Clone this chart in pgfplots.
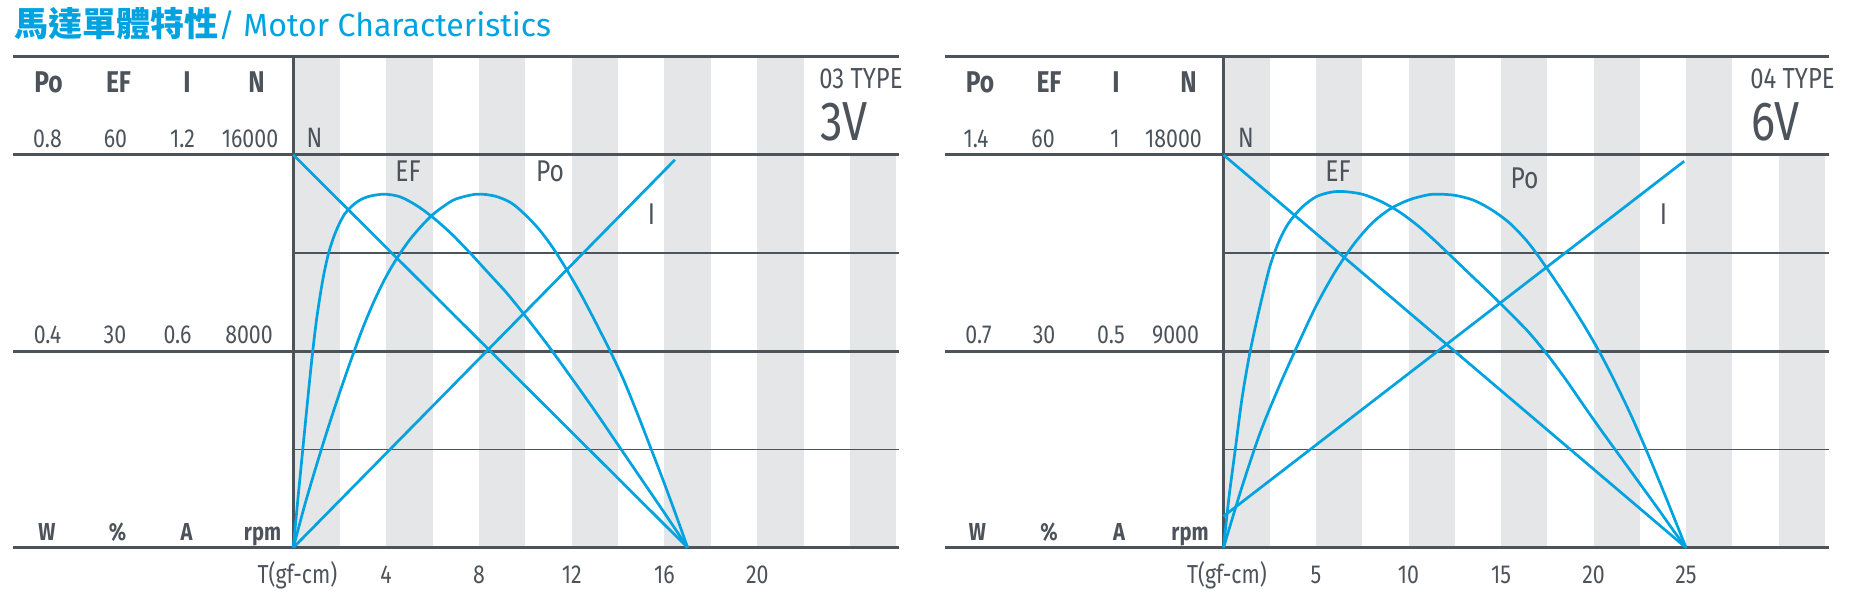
\documentclass[border=0pt]{standalone}
\usepackage{fontspec}
\setmainfont{Fira Sans}[FakeStretch=0.82]
\newfontfamily\titlefont{Fira Sans}
\newfontfamily\cjk{Noto Sans CJK TC}
\usepackage{pgfplots}
\pgfplotsset{compat=1.18}
\usepackage{pgfplotstable}
\definecolor{cblue}{RGB}{0,162,224}
\definecolor{sgray}{RGB}{229,230,232}
\definecolor{dgray}{RGB}{77,83,91}
\newcommand\fs[1]{\fontsize{#1}{#1}\selectfont}

% ---------- 03 TYPE 3V ----------
\pgfplotstableread{
T N
0 16000
17 0
}\nA
\pgfplotstableread{
T I
0 0
16.45 1.185
}\iA
\pgfplotstableread{
T EF
0 0
0.2 7.5
0.4 14.7
0.6 21.9
0.8 28.8
1.0 34.8
1.25 40.5
1.5 44.7
1.8 48
2.2 50.9
2.7 52.7
3.2 53.6
3.9 54
4.6 53.6
5.3 52.3
6.0 50.5
6.8 48
7.6 45.1
8.4 42
9.2 38.9
10.0 35.4
11.0 30.8
12.0 25.9
13.0 20.9
14.0 15.7
15.0 10.5
16.0 5.3
17 0
}\efA
\pgfplotstableread{
T P
0 0
0.5 0.088
1.0 0.168
1.5 0.244
2.0 0.316
2.5 0.384
3.0 0.448
3.5 0.504
4.0 0.552
4.5 0.592
5.0 0.626
5.5 0.654
6.0 0.678
6.5 0.696
7.0 0.71
7.9 0.72
8.7 0.716
9.4 0.702
10.0 0.678
10.6 0.648
11.2 0.61
11.8 0.565
12.4 0.516
13.0 0.462
13.6 0.406
14.2 0.346
14.8 0.277
15.4 0.204
16.0 0.13
16.5 0.066
17 0
}\poA

% ---------- 04 TYPE 6V ----------
\pgfplotstableread{
T N
0 18000
25 0
}\nB
\pgfplotstableread{
T I
0 0.08
24.9 0.984
}\iB
\pgfplotstableread{
T EF
0 0
0.3 7.8
0.65 15.3
1.0 22.8
1.4 29.4
1.9 36
2.5 42.9
3.0 46.8
3.5 49.5
4.2 51.9
5.0 53.6
5.8 54.3
6.5 54.4
7.5 54
8.5 52.9
9.5 51.3
10.5 49.2
11.5 46.7
12.5 44
13.5 41.3
14.5 38.6
15.5 35.8
16.5 32.9
17.5 29.5
18.5 25.7
19.5 21.6
20.5 17.6
21.5 13.7
22.5 9.8
23.5 5.9
24.3 2.7
25 0
}\efB
\pgfplotstableread{
T P
0 0
1 0.217
2 0.413
3 0.574
4 0.721
5 0.861
6 0.98
7 1.078
8 1.155
9 1.207
10 1.239
11 1.257
11.6 1.26
12.5 1.256
13.5 1.239
14.5 1.204
15.5 1.155
16.5 1.085
17.5 0.994
18.5 0.896
19.5 0.791
20.3 0.70
21 0.612
22 0.476
23 0.325
24 0.165
25 0
}\poB

\pgfplotsset{
  panel/.style={anchor=south west, width=302.75pt, height=245.5pt,
    scale only axis, xmin=0, ymin=0, ymax=1.25, clip=false,
    axis line style={draw=none}, ytick=\empty, major tick length=0pt,
    /pgf/number format/assume math mode=true,
    xticklabel style={font=\fs{13}, text=dgray, anchor=base, yshift=-17.65pt, inner sep=0pt}},
  curve/.style={cblue, line width=1.35pt, no markers},
}
\tikzset{
  thick line/.style={dgray, line width=1.5pt},
  thin line/.style={dgray, line width=0.8pt},
}

\begin{document}
\begin{tikzpicture}
\path (0,0) rectangle (925pt,-296.5pt);

% ===== left panel =====
\begin{axis}[panel, at={(146.65pt,-273.85pt)}, xmax=26.1, xtick={4,8,12,16,20}]
\fill[sgray] (axis cs:0,0) rectangle (axis cs:2,1.25);
\fill[sgray] (axis cs:4,0) rectangle (axis cs:6,1.25);
\fill[sgray] (axis cs:8,0) rectangle (axis cs:10,1.25);
\fill[sgray] (axis cs:12,0) rectangle (axis cs:14,1.25);
\fill[sgray] (axis cs:16,0) rectangle (axis cs:18,1.25);
\fill[sgray] (axis cs:20,0) rectangle (axis cs:22,1.25);
\fill[sgray] (axis cs:24,0) rectangle (axis cs:26,1.25);
\fill[white] (axis cs:22,1) rectangle (axis cs:26.1,1.25);
\draw[thick line] (axis cs:-12.08,1.25) -- (axis cs:26.1,1.25);
\draw[thick line] (axis cs:-12.08,1) -- (axis cs:26.1,1);
\draw[thick line] (axis cs:-12.08,0.5) -- (axis cs:26.1,0.5);
\draw[thick line] (axis cs:-12.08,0) -- (axis cs:26.1,0);
\draw[thin line] (axis cs:0,0.75) -- (axis cs:26.1,0.75);
\draw[thin line] (axis cs:0,0.25) -- (axis cs:26.1,0.25);
\draw[thick line] (axis cs:0,0) -- (axis cs:0,1.25);
\addplot[curve] table[x=T, y expr=\thisrow{N}/16000] {\nA};
\addplot[curve] table[x=T, y expr=\thisrow{I}/1.2] {\iA};
\addplot[curve, smooth] table[x=T, y expr=\thisrow{EF}/60] {\efA};
\addplot[curve, smooth] table[x=T, y expr=\thisrow{P}/0.8] {\poA};
\end{axis}

% ===== right panel =====
\begin{axis}[panel, at={(611.75pt,-273.85pt)}, xmax=32.73, xtick={5,10,15,20,25}]
\fill[sgray] (axis cs:0,0) rectangle (axis cs:2.5,1.25);
\fill[sgray] (axis cs:5,0) rectangle (axis cs:7.5,1.25);
\fill[sgray] (axis cs:10,0) rectangle (axis cs:12.5,1.25);
\fill[sgray] (axis cs:15,0) rectangle (axis cs:17.5,1.25);
\fill[sgray] (axis cs:20,0) rectangle (axis cs:22.5,1.25);
\fill[sgray] (axis cs:25,0) rectangle (axis cs:27.5,1.25);
\fill[sgray] (axis cs:30,0) rectangle (axis cs:32.5,1.25);
\fill[white] (axis cs:27.5,1) rectangle (axis cs:32.73,1.25);
\draw[thick line] (axis cs:-15.05,1.25) -- (axis cs:32.73,1.25);
\draw[thick line] (axis cs:-15.05,1) -- (axis cs:32.73,1);
\draw[thick line] (axis cs:-15.05,0.5) -- (axis cs:32.73,0.5);
\draw[thick line] (axis cs:-15.05,0) -- (axis cs:32.73,0);
\draw[thin line] (axis cs:0,0.75) -- (axis cs:32.73,0.75);
\draw[thin line] (axis cs:0,0.25) -- (axis cs:32.73,0.25);
\draw[thick line] (axis cs:0,0) -- (axis cs:0,1.25);
\addplot[curve] table[x=T, y expr=\thisrow{N}/18000] {\nB};
\addplot[curve] table[x=T, y expr=\thisrow{I}/1] {\iB};
\addplot[curve, smooth] table[x=T, y expr=\thisrow{EF}/60] {\efB};
\addplot[curve, smooth] table[x=T, y expr=\thisrow{P}/1.4] {\poB};
\end{axis}

% ===== title =====
\node[anchor=base west, inner sep=0pt, text=cblue] at (7pt,-18.5pt)
  {{\cjk\bfseries\fs{17}馬達單體特性}{\titlefont\fs{16}/ Motor Characteristics}};

\begin{scope}[every node/.style={inner sep=0pt, text=dgray, anchor=base}]
% left header
\node[font=\bfseries\fs{15}] at (24.25pt,-46.5pt) {Po};
\node[font=\bfseries\fs{15}] at (59.25pt,-46.5pt) {EF};
\node[font=\bfseries\fs{15}] at (93.5pt,-46.5pt) {I};
\node[font=\bfseries\fs{15}] at (128.25pt,-46.5pt) {N};
\node[font=\fs{13}] at (23.75pt,-74pt) {0.8};
\node[font=\fs{13}] at (57.75pt,-74pt) {60};
\node[font=\fs{13}] at (91.25pt,-74pt) {1.2};
\node[font=\fs{13}] at (125pt,-74pt) {16000};
\node[font=\fs{13}] at (23.75pt,-171.5pt) {0.4};
\node[font=\fs{13}] at (57.5pt,-171.5pt) {30};
\node[font=\fs{13}] at (88.75pt,-171.5pt) {0.6};
\node[font=\fs{13}] at (124.5pt,-171.5pt) {8000};
\node[font=\bfseries\fs{12.3}] at (23.5pt,-270pt) {W};
\node[font=\bfseries\fs{12.3}] at (58.75pt,-270pt) {\%};
\node[font=\bfseries\fs{12.3}] at (93.25pt,-270pt) {A};
\node[font=\bfseries\fs{12.3}] at (131.25pt,-270pt) {rpm};
\node[font=\fs{13}] at (148.75pt,-291.5pt) {T(gf-cm)};
\node[font=\fs{14}] at (157.25pt,-74pt) {N};
\node[font=\fs{15}] at (204pt,-91pt) {EF};
\node[font=\fs{15}] at (275pt,-91pt) {Po};
\node[font=\fs{15}] at (325.75pt,-112.5pt) {I};
\node[font=\fs{14.5}, anchor=base west] at (409.5pt,-44.25pt) {03 TYPE};
\node[font=\fs{27.5}, anchor=base west] at (410pt,-70.5pt) {3V};
% right header
\node[font=\bfseries\fs{15}] at (490pt,-46.5pt) {Po};
\node[font=\bfseries\fs{15}] at (524.5pt,-46.5pt) {EF};
\node[font=\bfseries\fs{15}] at (558pt,-46.5pt) {I};
\node[font=\bfseries\fs{15}] at (594.25pt,-46.5pt) {N};
\node[font=\fs{13}] at (488pt,-74pt) {1.4};
\node[font=\fs{13}] at (521.5pt,-74pt) {60};
\node[font=\fs{13}] at (557.5pt,-74pt) {1};
\node[font=\fs{13}] at (586.75pt,-74pt) {18000};
\node[font=\fs{13}] at (489.25pt,-171.5pt) {0.7};
\node[font=\fs{13}] at (522pt,-171.5pt) {30};
\node[font=\fs{13}] at (555.5pt,-171.5pt) {0.5};
\node[font=\fs{13}] at (587.75pt,-171.5pt) {9000};
\node[font=\bfseries\fs{12.3}] at (488.75pt,-270pt) {W};
\node[font=\bfseries\fs{12.3}] at (524.5pt,-270pt) {\%};
\node[font=\bfseries\fs{12.3}] at (559.5pt,-270pt) {A};
\node[font=\bfseries\fs{12.3}] at (595pt,-270pt) {rpm};
\node[font=\fs{13}] at (613.5pt,-291.5pt) {T(gf-cm)};
\node[font=\fs{14}] at (623pt,-74pt) {N};
\node[font=\fs{15}] at (669pt,-91pt) {EF};
\node[font=\fs{15}] at (762.25pt,-94.5pt) {Po};
\node[font=\fs{15}] at (831.75pt,-112.5pt) {I};
\node[font=\fs{14.5}, anchor=base west] at (875pt,-44.25pt) {04 TYPE};
\node[font=\fs{27.5}, anchor=base west] at (875.5pt,-70.5pt) {6V};
\end{scope}
\end{tikzpicture}
\end{document}
